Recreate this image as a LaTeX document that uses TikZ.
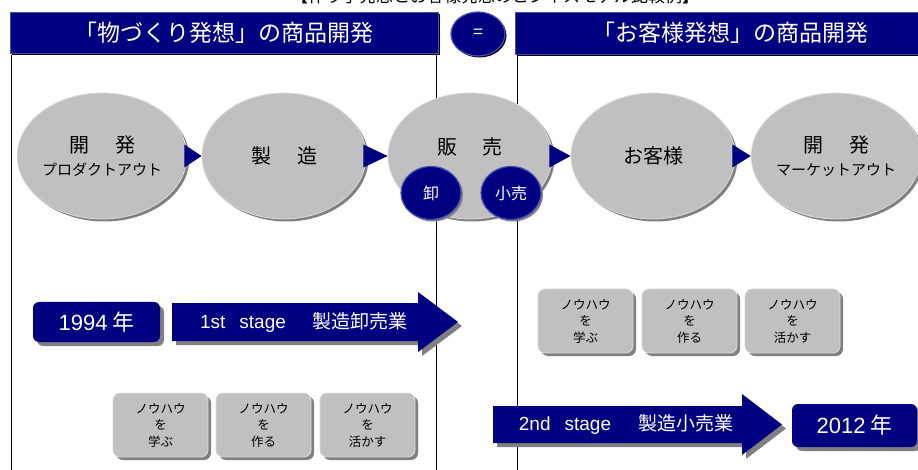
\documentclass[tikz,border=0pt]{standalone}
\usepackage{fontspec}
\setmainfont{Noto Sans CJK JP}
\newfontfamily\lat{Liberation Sans}
\usetikzlibrary{shapes.geometric,shadows,calc}
\definecolor{navy}{HTML}{000080}
\definecolor{navyedge}{HTML}{4A4AB0}
\definecolor{bgray}{HTML}{C0C0C0}
\definecolor{bedge}{HTML}{DADADA}
\definecolor{sgray}{HTML}{808080}
\newcommand{\fs}[1]{\fontsize{#1}{#1}\selectfont}
\begin{document}
\begin{tikzpicture}[x=1pt,y=-1pt,
  header/.style={rectangle, fill=navy, draw=navyedge, line width=0.8pt, inner sep=0pt,
    text=white, font=\fs{23},
    drop shadow={shadow xshift=1.5pt, shadow yshift=-2pt, fill=black, opacity=1}},
  bubble/.style={ellipse, fill=bgray, draw=bedge, line width=0.8pt, inner sep=0pt,
    minimum width=164pt, minimum height=126pt, align=center, font=\fs{20},
    drop shadow={shadow xshift=2.5pt, shadow yshift=-2.5pt, fill=sgray, opacity=1}},
  navycirc/.style={ellipse, fill=navy, draw=navyedge, line width=1.2pt, inner sep=0pt,
    minimum width=60pt, minimum height=53pt, text=white, font=\fs{16},
    drop shadow={shadow xshift=2pt, shadow yshift=-2pt, fill=sgray, opacity=1}},
  knowhow/.style={rectangle, rounded corners=7pt, fill=bgray, draw=bedge, line width=0.8pt,
    minimum width=95pt, minimum height=64pt, inner sep=0pt, align=center,
    font=\fontsize{12.5}{16.5}\selectfont,
    drop shadow={shadow xshift=3pt, shadow yshift=-3pt, fill=sgray, opacity=1}},
  yearbox/.style={rectangle, rounded corners=6pt, fill=navy, inner sep=0pt, text=white,
    font=\fs{22},
    drop shadow={shadow xshift=4pt, shadow yshift=-4pt, fill=sgray, opacity=1}},
  stagetext/.style={text=white, font=\fs{19}, inner sep=0pt},
  panel/.style={draw=black, line width=1pt},
  tri/.style={fill=navy}
]
\useasboundingbox (0,0) rectangle (918,470);
\begin{scope}
\clip (0,0) rectangle (918,470);

% clipped title
\node[anchor=base, font=\fs{17}, inner sep=0pt] (title) at (495,2.5)
  {【作り手発想とお客様発想のビジネスモデル比較例】};

% panel lines
\draw[panel] (11,55) -- (11,470);
\draw[panel] (436,55) -- (436,470);
\draw[panel] (517,55) -- (517,470);

% headers
\node[header, minimum width=428pt, minimum height=41pt] (h1) at (224,32.5)
  {「物づくり発想」の商品開発};
\node[header, minimum width=430pt, minimum height=42pt] (h2) at (730,33)
  {「お客様発想」の商品開発};
\node[ellipse, fill=navy, draw=navyedge, line width=1.2pt, inner sep=0pt,
  minimum width=54pt, minimum height=44pt, text=white, font=\fs{18},
  drop shadow={shadow xshift=1.5pt, shadow yshift=-1.5pt, fill=black, opacity=1}]
  (eq) at (478,34) {=};

% process bubbles
\node[bubble] (e1) at (102,156)
  {開\hspace{26pt}発\\[3pt]{\fs{15}プロダクトアウト}};
\node[bubble] (e2) at (284,156) {製\hspace{26pt}造};
\node[bubble] (e3) at (470,156) {};
\node[font=\fs{20}, inner sep=0pt] (t3) at ($(e3.center)+(0,-9)$) {販\hspace{25pt}売};
\node[bubble] (e4) at (653,156) {お客様};
\node[bubble] (e5) at (836,156)
  {開\hspace{26pt}発\\[3pt]{\fs{15}マーケットアウト}};

% small circles
\node[navycirc] (c1) at (431,193) {卸};
\node[navycirc] (c2) at (511,193) {小売};

% triangles between bubbles
\fill[tri] ($(e1.east)+(-3,-11.5)$) -- (e2.west) -- ($(e1.east)+(-3,11.5)$) -- cycle;
\fill[tri] ($(e2.east)+(-3,-11.5)$) -- (e3.west) -- ($(e2.east)+(-3,11.5)$) -- cycle;
\fill[tri] ($(e3.east)+(-3,-11.5)$) -- (e4.west) -- ($(e3.east)+(-3,11.5)$) -- cycle;
\fill[tri] ($(e4.east)+(-3,-11.5)$) -- (e5.west) -- ($(e4.east)+(-3,11.5)$) -- cycle;

% 1st stage
\node[yearbox, minimum width=127pt, minimum height=40pt] (y1) at (96.5,322) {{\lat 1994} 年};
\fill[sgray] (176,307) -- (422,307) -- (422,296) -- (462,326) -- (422,356) -- (422,345) -- (176,345) -- cycle;
\fill[navy] (172,303) -- (418,303) -- (418,292) -- (458,322) -- (418,352) -- (418,341) -- (172,341) -- cycle;
\node[stagetext] (s1) at (304,322) {{\lat 1st\hspace{14pt}stage}\hspace{27pt}製造卸売業};

% know-how boxes (right top)
\node[knowhow] (k1) at (585.5,321) {ノウハウ\\を\\学ぶ};
\node[knowhow] (k2) at (689.5,321) {ノウハウ\\を\\作る};
\node[knowhow] (k3) at (792.5,321) {ノウハウ\\を\\活かす};

% know-how boxes (left bottom)
\node[knowhow] (k4) at (160.5,425) {ノウハウ\\を\\学ぶ};
\node[knowhow] (k5) at (263.5,425) {ノウハウ\\を\\作る};
\node[knowhow] (k6) at (367.5,425) {ノウハウ\\を\\活かす};

% 2nd stage
\fill[sgray] (497,410) -- (746,410) -- (746,398) -- (786,428.5) -- (746,459) -- (746,447) -- (497,447) -- cycle;
\fill[navy] (493,406) -- (742,406) -- (742,394) -- (782,424.5) -- (742,455) -- (742,443) -- (493,443) -- cycle;
\node[stagetext] (s2) at (626,424.5) {{\lat 2nd\hspace{14pt}stage}\hspace{27pt}製造小売業};
\node[yearbox, minimum width=125pt, minimum height=43pt] (y2) at (854.5,425.5) {{\lat 2012} 年};
\end{scope}
\end{tikzpicture}
\end{document}
